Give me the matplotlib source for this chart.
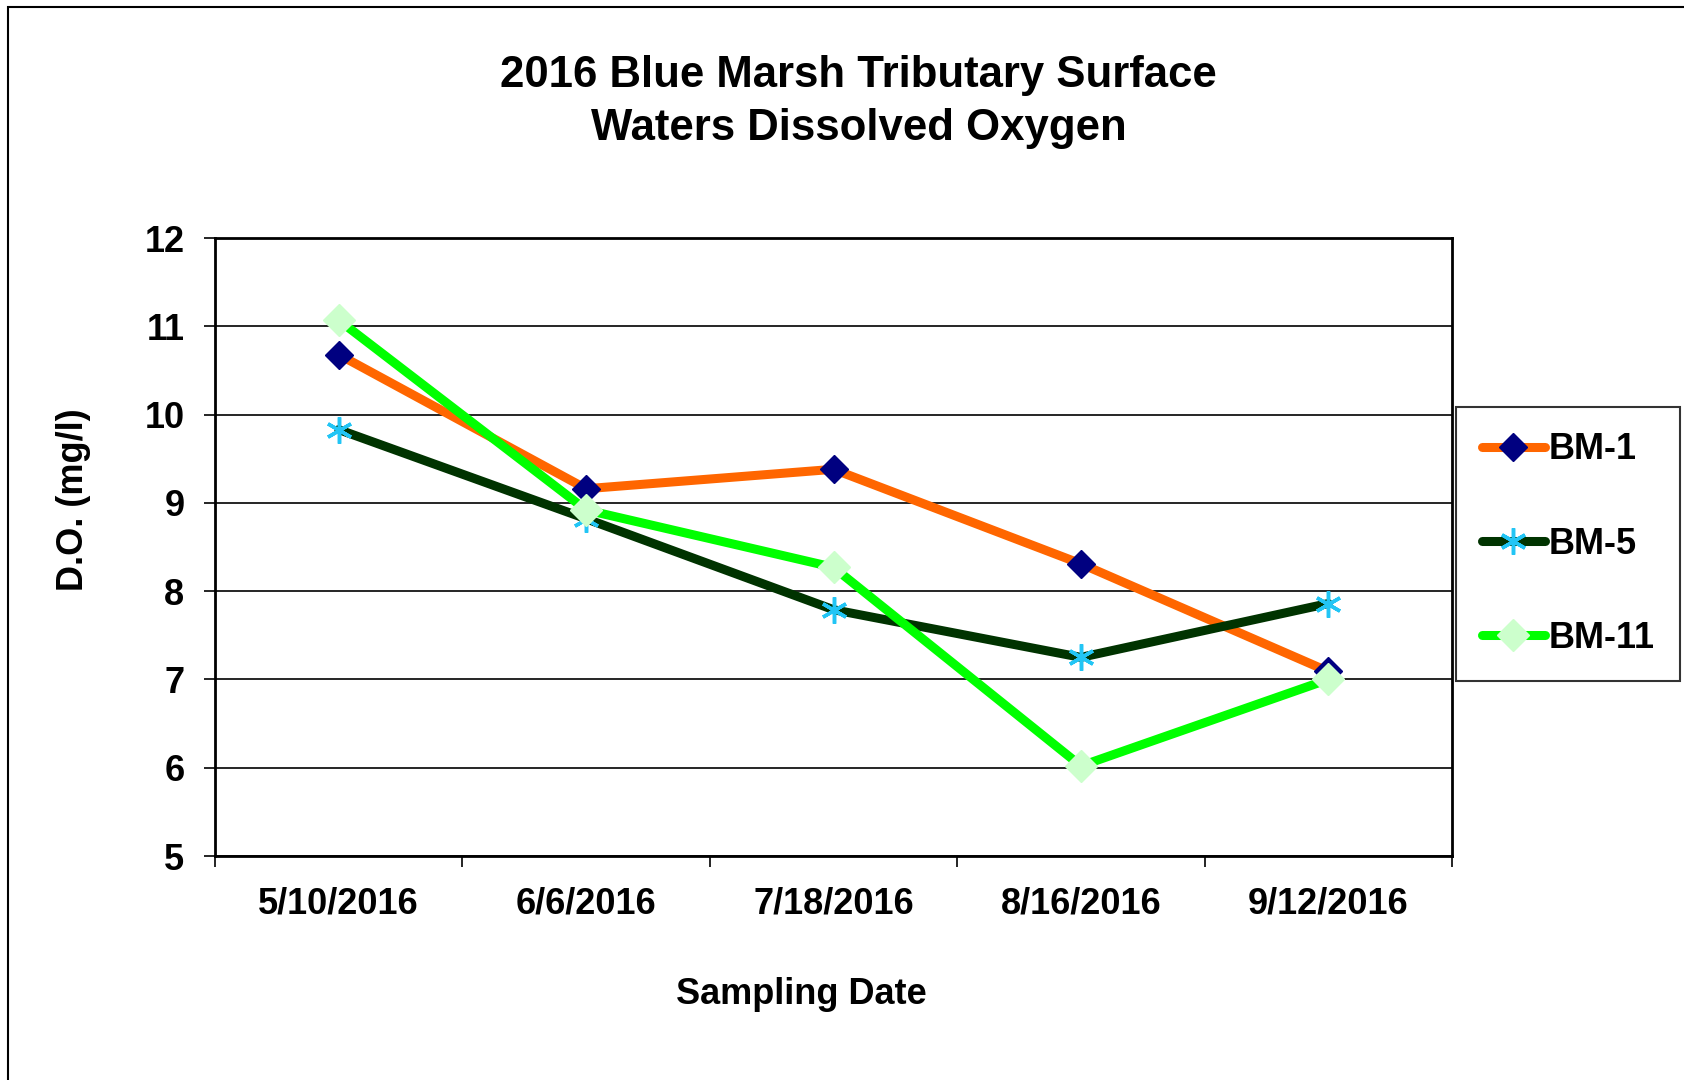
import matplotlib.pyplot as plt
import numpy as np
from matplotlib.patches import Rectangle

plt.rcParams['font.family'] = ['Liberation Sans', 'DejaVu Sans']
plt.rcParams['font.weight'] = 'bold'

# data
dates = ['5/10/2016', '6/6/2016', '7/18/2016', '8/16/2016', '9/12/2016']
bm1 = [10.68, 9.16, 9.38, 8.31, 7.09]
bm5 = [9.83, 8.82, 7.79, 7.25, 7.86]
bm11 = [11.07, 8.92, 8.27, 6.02, 7.00]

fig = plt.figure(figsize=(16.84, 10.80), dpi=100)
ax = fig.add_axes([215 / 1684, 1 - 856 / 1080, (1452 - 215) / 1684, (856 - 238) / 1080])

# outer chart border
fig.patches.append(Rectangle((8 / 1684, -0.05), 1.2, 1 - 7 / 1080 + 0.05,
                             transform=fig.transFigure, fill=False,
                             edgecolor='black', lw=1.5))

x = np.arange(len(dates))
ax.plot(x, bm1, color='#FF6600', lw=6.5, marker='D', ms=14,
        mfc='#000080', mec='#000080', label='BM-1', zorder=3,
        solid_capstyle='round')
ax.plot(x, bm5, color='#003300', lw=6.5, marker=(6, 2, 0), ms=19, mew=2.5,
        mfc='#22C5F5', mec='#22C5F5', label='BM-5', zorder=3,
        solid_capstyle='round')
ax.plot(x, bm11, color='#00FF00', lw=6.5, marker='D', ms=16,
        mfc='#CCFFCC', mec='#CCFFCC', label='BM-11', zorder=4,
        solid_capstyle='round')

ax.set_xlim(-0.5, len(dates) - 0.5)
ax.set_ylim(5, 12)
ax.set_yticks(range(5, 13))
ax.yaxis.grid(True, color='black', lw=1.2)
ax.set_axisbelow(True)

ax.set_xticks(np.arange(-0.5, len(dates), 1.0))
ax.set_xticklabels([])
ax.set_xticks(x, minor=True)
ax.set_xticklabels(dates, minor=True)
ax.tick_params(axis='x', which='major', direction='out', length=8, width=1.2)
ax.tick_params(axis='x', which='minor', length=0, pad=22, labelsize=26)
ax.tick_params(axis='y', direction='out', length=8, width=1.2, labelsize=26, pad=14)

for s in ax.spines.values():
    s.set_linewidth(2)

ax.set_xlabel('Sampling Date', fontsize=26, fontweight='bold')
ax.xaxis.set_label_coords(0.474, -0.196)
ax.set_ylabel('D.O. (mg/l)', fontsize=26, fontweight='bold')
ax.yaxis.set_label_coords(-0.100, 0.576)

fig.text(0.510, 1 - 102 / 1080, '2016 Blue Marsh Tributary Surface\nWaters Dissolved Oxygen',
         ha='center', va='center', fontsize=31.5, fontweight='bold', linespacing=1.36)

leg = fig.legend(loc='center', bbox_to_anchor=(1568 / 1684, 1 - 544 / 1080),
                 fontsize=26, frameon=True, fancybox=False, edgecolor='black',
                 handlelength=1.75, handletextpad=0.1, labelspacing=1.64,
                 borderpad=0.7, borderaxespad=0)
leg.get_frame().set_linewidth(1.5)

fig.savefig('out.png', dpi=100)
